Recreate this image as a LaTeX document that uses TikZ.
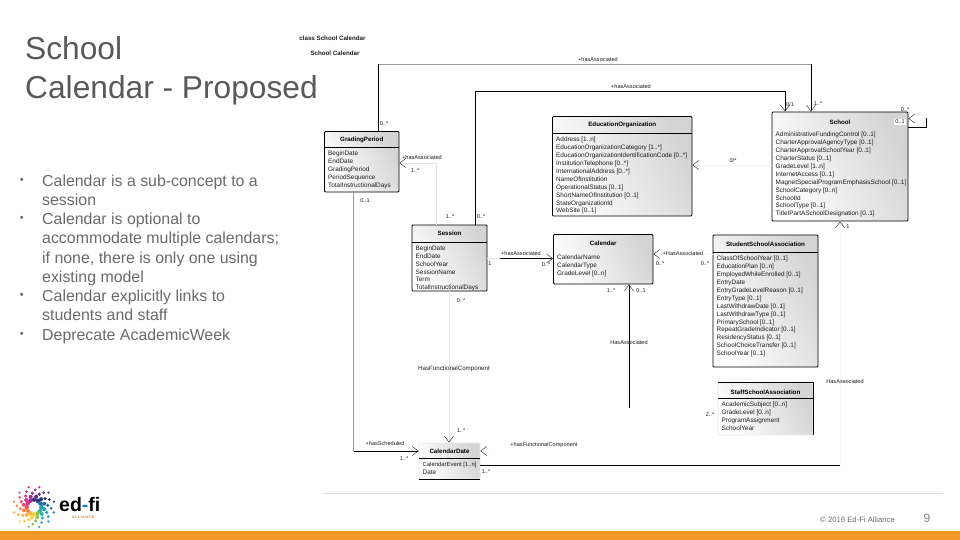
\documentclass[tikz,border=0pt]{standalone}
\usepackage{fontspec}
\setmainfont{Liberation Sans}
\usetikzlibrary{arrows.meta}
\definecolor{titleink}{HTML}{595959}
\definecolor{bodyink}{HTML}{6A6A6A}
\definecolor{umlink}{HTML}{1C1C1C}
\definecolor{boxshade}{HTML}{D4D4D4}
\definecolor{footrule}{HTML}{DDDDDD}
\definecolor{footbar}{HTML}{F39726}
\tikzset{
  classbox/.style={draw=black, line width=0.8pt, rounded corners=1pt, inner sep=0pt,
    left color=white, right color=boxshade, shading angle=115},
  datebox/.style={draw=boxshade!50},
  staffbox/.style={draw=boxshade!50},
  classtitle/.style={font=\bfseries\fontsize{6.2}{7}\selectfont, text=black, inner sep=0pt},
  classattrs/.style={font=\fontsize{6.4}{7.9}\selectfont, text=umlink, align=left, inner sep=0pt, anchor=north west},
  lbl/.style={font=\fontsize{5.6}{7}\selectfont, text=umlink, inner sep=0.5pt},
  darklink/.style={draw=black, line width=0.9pt},
  graylink/.style={draw=black!40, line width=0.9pt},
  faintlink/.style={draw=black!10, line width=0.9pt},
  ghostlink/.style={draw=black!3, line width=0.7pt},
  openhead/.style={-{Straight Barb[length=6pt,width=9pt,color=black!75,line width=0.5pt]}},
  bulletitem/.style={font=\fontsize{15.9}{19.25}\selectfont, text=bodyink, align=left, inner sep=0pt, anchor=north west},
  bulletdot/.style={font=\fontsize{11}{12}\selectfont, text=bodyink, inner sep=0pt},
}
\newcommand{\classrect}[9]{%
  \node[classbox, #1box/.try, minimum width={#4-#2}, minimum height={#5-#3}] (#1) at ({(#2+#4)/2},{(#3+#5)/2}) {};
  \node[classtitle] (#1title) at ({(#2+#4)/2},#6) {#8};
  \node[classattrs] (#1attrs) at ({#2+3.5},#7) {#9};
}
\newcommand{\classrule}[2]{\draw[black, line width=0.8pt] (#1.west |- 0,#2) -- (#1.east |- 0,#2);}

\begin{document}
\begin{tikzpicture}[x=1pt, y=-1pt]
  \useasboundingbox (0,0) rectangle (960,540);

  % slide text
  \node[font=\fontsize{31.7}{39}\selectfont, text=titleink, align=left, inner sep=0pt, anchor=north west] (slidetitle) at (25,36) {School\\Calendar - Proposed};
  \foreach \by/\bt [count=\bi] in {
    175/{Calendar is a sub-concept to a\\session},
    213/{Calendar is optional to\\accommodate multiple calendars;\\if none, there is only one using\\existing model},
    290/{Calendar explicitly links to\\students and staff},
    329/{Deprecate AcademicWeek}} {
    \node[bulletdot] (bullet\bi) at (21.7,\by+5.5) {•};
    \node[bulletitem] (item\bi) at (42,\by) {\bt};
  }

  % diagram frame captions
  \node[lbl, font=\bfseries\fontsize{6.2}{7}\selectfont] (frameclass) at (332.5,38) {class School Calendar};
  \node[lbl, font=\bfseries\fontsize{6.2}{7}\selectfont] (framename) at (335,53.5) {School Calendar};

  % classes
  \classrect{grading}{324.5}{131.5}{399}{192}{140}{151}{GradingPeriod}{BeginDate\\EndDate\\GradingPeriod\\PeriodSequence\\TotalInstructionalDays}
  \classrule{grading}{147}
  \classrect{edorg}{552.5}{116.5}{692}{216}{124.5}{137}{EducationOrganization}{Address [1..n]\\EducationOrganizationCategory [1..*]\\EducationOrganizationIdentificationCode [0..*]\\InstitutionTelephone [0..*]\\InternationalAddress [0..*]\\NameOfInstitution\\OperationalStatus [0..1]\\ShortNameOfInstitution [0..1]\\StateOrganizationId\\WebSite [0..1]}
  \classrule{edorg}{133}
  \classrect{school}{772}{112}{908}{221}{122}{132}{School}{AdministrativeFundingControl [0..1]\\CharterApprovalAgencyType [0..1]\\CharterApprovalSchoolYear [0..1]\\CharterStatus [0..1]\\GradeLevel [1..n]\\InternetAccess [0..1]\\MagnetSpecialProgramEmphasisSchool [0..1]\\SchoolCategory [0..n]\\SchoolId\\SchoolType [0..1]\\TitleIPartASchoolDesignation [0..1]}
  \classrect{session}{412}{225}{487}{291}{233}{245.5}{Session}{BeginDate\\EndDate\\SchoolYear\\SessionName\\Term\\TotalInstructionalDays}
  \classrule{session}{242}
  \classrect{calendar}{553.5}{234.5}{653}{284}{243.5}{255}{Calendar}{CalendarName\\CalendarType\\GradeLevel [0..n]}
  \classrect{student}{713}{235}{818}{367}{244}{256}{StudentSchoolAssociation}{ClassOfSchoolYear [0..1]\\EducationPlan [0..n]\\EmployedWhileEnrolled [0..1]\\EntryDate\\EntryGradeLevelReason [0..1]\\EntryType [0..1]\\LastWithdrawDate [0..1]\\LastWithdrawType [0..1]\\PrimarySchool [0..1]\\RepeatGradeIndicator [0..1]\\ResidencyStatus [0..1]\\SchoolChoiceTransfer [0..1]\\SchoolYear [0..1]}
  \classrule{student}{252}
  \classrect{staff}{718}{383}{813}{435}{392}{402}{StaffSchoolAssociation}{AcademicSubject [0..n]\\GradeLevel [0..n]\\ProgramAssignment\\SchoolYear}
  \classrule{staff}{398}
  \draw[black, line width=0.8pt] (staff.north west) -- (staff.north east) -- (staff.south east);
  \classrect{date}{419}{443}{480}{479}{451}{462}{CalendarDate}{\fontsize{5.9}{7.9}\selectfont CalendarEvent [1..n]\\Date}
  \classrule{date}{458}
  \classrule{date}{479}

  % bend points and free ends
  \coordinate (topleft) at (378.5,64.5);
  \coordinate (topright) at (811,64.5);
  \coordinate (midleft) at (475,91);
  \coordinate (midright) at (785,91);
  \coordinate (gradeleft) at (353.5,451);
  \coordinate (gradeelbow) at (436,163);
  \coordinate (sessiondate) at (449,291);
  \coordinate (calendarfoot) at (629,408);
  \coordinate (dateright) at (840,465.5);
  \coordinate (datestub) at (492,451);
  \coordinate (sessionstub) at (500,258.5);

  % connectors
  \draw[darklink] (grading.north -| topleft) -- (topleft);
  \draw[graylink] (topleft) -- (topright);
  \draw[darklink, openhead] (topright) -- (school.north -| topright);
  \draw[darklink, openhead] (session.north -| midleft) -- (midleft) -- (midright) -- (school.north -| midright);
  \draw[graylink] (grading.south -| gradeleft) -- (gradeleft);
  \draw[darklink, openhead] (gradeleft) -- (date.west |- gradeleft);
  \draw[faintlink, openhead] (session.north -| gradeelbow) -- (gradeelbow) -- (grading.east |- gradeelbow);
  \draw[faintlink, openhead] (session.south -| sessiondate) -- (date.north -| sessiondate);
  \draw[faintlink] (session.east |- sessionstub) -- (sessionstub);
  \draw[darklink, openhead] (sessionstub) -- (calendar.west |- sessionstub);
  \draw[ghostlink, openhead] (student.west |- 0,254) -- (calendar.east |- 0,254);
  \draw[ghostlink, openhead] (school.west |- 0,165) -- (edorg.east |- 0,165);
  \draw[darklink, openhead] (calendarfoot) -- (calendar.south -| calendarfoot);
  \draw[darklink] (date.east |- dateright) -- (dateright);
  \draw[ghostlink, openhead] (dateright) -- (school.south -| dateright);
  \draw[ghostlink, openhead] (datestub) -- (date.east |- datestub);
  \draw[darklink] (school.east |- 0,127) -- (926,127) -- (926,118.5);
  \draw[ghostlink, openhead] (926,118.5) -- (school.east |- 0,118.5);

  % association names
  \foreach \lx/\ly/\lt [count=\li] in {
    598/60/{+hasAssociated}, 631/86/{+hasAssociated}, 422/157/{+hasAssociated},
    521/253/{+hasAssociated}, 683/253/{+HasAssociated}, 845/381/{HasAssociated},
    629/342/{HasAssociated}, 385/443/{+hasScheduled}, 544/445/{+hasFunctionalComponent}} {
    \node[lbl] (assoc\li) at (\lx,\ly) {\lt};
  }
  \node[lbl, font=\fontsize{6.2}{7}\selectfont] (assocfunc) at (454,369) {HasFunctionalComponent};

  % multiplicities
  \foreach \mx/\my/\mt [count=\mi] in {
    384/124/{0..*}, 365/201/{0..1}, 450/217/{1..*}, 481/217/{0..*}, 415/171/{1..*},
    490/264/{1}, 546/265/{0..*}, 660/264/{0..*}, 705/264/{0..*}, 611/291/{1..*}, 641/291/{0..1},
    461/301/{0..*}, 461/431/{1..*}, 404/459/{1..*}, 486/472/{1..*}, 710/415/{2..*},
    733/160/{0/*}, 790/104/{0/1}, 818/104/{1..*}, 905/110/{0..*}, 848/227/{1}} {
    \node[lbl] (mult\mi) at (\mx,\my) {\mt};
  }
  \node[lbl, fill=white, inner sep=1pt] (multself) at (900,122) {0..1};

  % footer
  \coordinate (ruleleft) at (323,493);
  \coordinate (ruleright) at (943,493);
  \draw[footrule, line width=0.8pt] (ruleleft) -- (ruleright);
  \fill[footbar] (0,531) rectangle (960,540);
  \node[font=\fontsize{7.7}{8}\selectfont, text=bodyink, inner sep=0pt] (copyright) at (857.5,519.5) {© 2016 Ed-Fi Alliance};
  \node[font=\fontsize{12}{13}\selectfont, text=black!50, inner sep=0pt] (pagenum) at (927,518.5) {9};

  % logo
  \foreach \arm/\armcolor in {0/2B3A7A, 1/1F6FA8, 2/1E9CB8, 3/33B3A6, 4/8CC152, 5/F4D03F, 6/F6B44A, 7/F08A4B, 8/E8556D, 9/D6338A, 10/A52A9B, 11/5B2C83} {
    \definecolor{armcolor}{HTML}{\armcolor}
    \foreach \k in {1,...,5} {
      \pgfmathsetmacro{\dotang}{-70+\arm*30+\k*11}
      \pgfmathsetmacro{\dotrad}{4+\k*3.3}
      \pgfmathsetmacro{\dotsize}{2.5-\k*0.25}
      \fill[armcolor] (34,507) ++(\dotang:\dotrad) circle (\dotsize pt);
    }
  }
  \node[font=\fontsize{19.5}{20}\selectfont\bfseries, text=black, inner sep=0pt, anchor=west] (logoname) at (59,504.5) {ed\textcolor{cyan!60!blue}{-}fi};
  \node[font=\bfseries\fontsize{3.6}{4}\selectfont, text=orange!60!gray, inner sep=0pt] (logosub) at (83,517.5) {A\,L\,L\,I\,A\,N\,C\,E};
\end{tikzpicture}
\end{document}
